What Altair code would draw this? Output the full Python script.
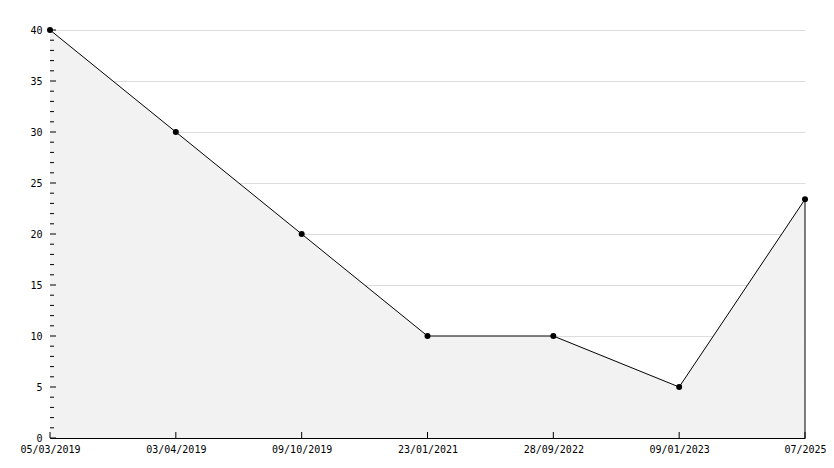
import altair as alt
import pandas as pd

dates = ["05/03/2019", "03/04/2019", "09/10/2019", "23/01/2021", "28/09/2022", "09/01/2023", "07/2025"]
values = [40, 30, 20, 10, 10, 5, 23.4]
major_ticks = [0, 5, 10, 15, 20, 25, 30, 35, 40]
minor_ticks = [v for v in range(0, 41) if v % 5 != 0]

W, H = 755, 408
FONT = "DejaVu Sans Mono"

df = pd.DataFrame({"date": dates, "value": values})
last = pd.DataFrame({"date": [dates[-1]], "value": [values[-1]]})
majors = pd.DataFrame({"v": major_ticks})
minors = pd.DataFrame({"v": minor_ticks})

xsc = alt.Scale(type="point", padding=0, domain=dates)
ysc = alt.Scale(domain=[0, 40], nice=False)

x_enc = alt.X("date:N", scale=xsc, sort=None,
              axis=alt.Axis(title=None, labelAngle=0, ticks=False, domainColor="black",
                            labelFont=FONT, labelFontSize=10, labelColor="black",
                            labelPadding=6, grid=False, labelOverlap=False))
y_enc = alt.Y("value:Q", scale=ysc,
              axis=alt.Axis(title=None, ticks=False, domainColor="black", values=major_ticks,
                            labelFont=FONT, labelFontSize=10, labelColor="black",
                            labelPadding=8, grid=True, gridColor="#dddddd"))

base = alt.Chart(df)
area = base.mark_area(color="#f2f2f2", opacity=1).encode(x=x_enc, y=y_enc, y2=alt.datum(0))
line = base.mark_line(color="black", strokeWidth=1).encode(x="date:N", y="value:Q")
pts = base.mark_point(filled=True, color="black", shape="circle", size=36, opacity=1).encode(x="date:N", y="value:Q")
edge = alt.Chart(last).mark_rule(color="black", strokeWidth=1).encode(x="date:N", y="value:Q", y2=alt.datum(0))
xticks = base.mark_rule(color="black", strokeWidth=1).encode(x="date:N", y=alt.value(H), y2=alt.value(H - 6))
ymaj = alt.Chart(majors).mark_rule(color="black", strokeWidth=1).encode(
    y=alt.Y("v:Q", scale=ysc), x=alt.value(0), x2=alt.value(6))
ymin = alt.Chart(minors).mark_rule(color="black", strokeWidth=1).encode(
    y=alt.Y("v:Q", scale=ysc), x=alt.value(0), x2=alt.value(4))

chart = alt.layer(area, line, edge, xticks, ymaj, ymin, pts).properties(
    width=W, height=H,
    autosize=alt.AutoSizeParams(type="none"),
    padding={"left": 42, "top": 22, "right": 21, "bottom": 20},
).configure_view(stroke=None)

chart.save("out.html", embed_options={"renderer": "svg", "actions": False})
